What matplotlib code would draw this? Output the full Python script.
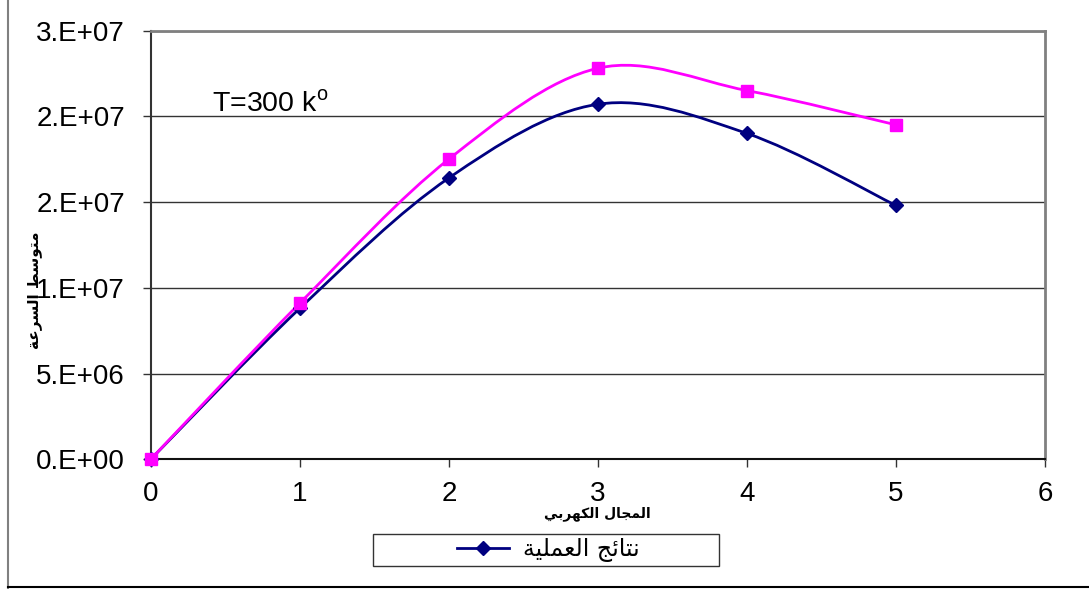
import matplotlib
matplotlib.use('Agg')
import numpy as np
import matplotlib.pyplot as plt
from matplotlib.path import Path
from matplotlib.patches import PathPatch, Rectangle
from matplotlib.lines import Line2D

plt.rcParams['font.family'] = ['Liberation Sans', 'DejaVu Sans']
plt.rcParams['mathtext.fontset'] = 'custom'
plt.rcParams['mathtext.rm'] = 'Liberation Sans'

# electric field vs. mean drift speed at T = 300 K
field = [0, 1, 2, 3, 4, 5]
speed_measured = [0, 8.8e6, 1.64e7, 2.07e7, 1.90e7, 1.48e7]
speed_second = [0, 9.1e6, 1.75e7, 2.28e7, 2.15e7, 1.95e7]

x_ticks = [0, 1, 2, 3, 4, 5, 6]
y_ticks = [0, 5e6, 1e7, 1.5e7, 2e7, 2.5e7]
y_tick_labels = ['0.E+00', '5.E+06', '1.E+07', '2.E+07', '2.E+07', '3.E+07']

x_title = 'المجال الكهربي'
y_title = 'متوسط السرعة'
legend_label = 'نتائج العملية'

# matplotlib does no Arabic shaping, so pick presentation forms by hand
# (isolated, final, initial, medial); right-joining letters have only two
AR_FORMS = {
    'ا': (0xFE8D, 0xFE8E),
    'ب': (0xFE8F, 0xFE90, 0xFE91, 0xFE92),
    'ة': (0xFE93, 0xFE94),
    'ت': (0xFE95, 0xFE96, 0xFE97, 0xFE98),
    'ج': (0xFE9D, 0xFE9E, 0xFE9F, 0xFEA0),
    'ر': (0xFEAD, 0xFEAE),
    'س': (0xFEB1, 0xFEB2, 0xFEB3, 0xFEB4),
    'ط': (0xFEC1, 0xFEC2, 0xFEC3, 0xFEC4),
    'ع': (0xFEC9, 0xFECA, 0xFECB, 0xFECC),
    'ك': (0xFED9, 0xFEDA, 0xFEDB, 0xFEDC),
    'ل': (0xFEDD, 0xFEDE, 0xFEDF, 0xFEE0),
    'م': (0xFEE1, 0xFEE2, 0xFEE3, 0xFEE4),
    'ن': (0xFEE5, 0xFEE6, 0xFEE7, 0xFEE8),
    'ه': (0xFEE9, 0xFEEA, 0xFEEB, 0xFEEC),
    'و': (0xFEED, 0xFEEE),
    'ي': (0xFEF1, 0xFEF2, 0xFEF3, 0xFEF4),
    'ئ': (0xFE89, 0xFE8A, 0xFE8B, 0xFE8C),
}


def shape_ar(text):
    out = []
    for i, ch in enumerate(text):
        forms = AR_FORMS.get(ch)
        if forms is None:
            out.append(ch)
            continue
        prev = text[i - 1] if i > 0 else ''
        nxt = text[i + 1] if i + 1 < len(text) else ''
        join_prev = prev in AR_FORMS and len(AR_FORMS[prev]) == 4
        join_next = len(forms) == 4 and nxt in AR_FORMS
        if join_prev and join_next:
            code = forms[3]
        elif join_prev:
            code = forms[1]
        elif join_next:
            code = forms[2]
        else:
            code = forms[0]
        out.append(chr(code))
    return ''.join(reversed(out))


def smooth_path(xs, ys):
    # Catmull-Rom through the points, written as cubic Bezier segments
    pts = np.column_stack([xs, ys]).astype(float)
    n = len(pts)
    verts = [pts[0]]
    codes = [Path.MOVETO]
    for i in range(n - 1):
        p0 = pts[max(i - 1, 0)]
        p1 = pts[i]
        p2 = pts[i + 1]
        p3 = pts[min(i + 2, n - 1)]
        verts += [p1 + (p2 - p0) / 6, p2 - (p3 - p1) / 6, p2]
        codes += [Path.CURVE4] * 3
    return Path(verts, codes)


fig = plt.figure(figsize=(10.89, 5.89), dpi=100)
ax = fig.add_axes([0.1384, 0.2202, 0.8212, 0.728])

ax.yaxis.grid(True, color='#333333', lw=1, zorder=0)

for ys, col, mk, ms in [(speed_measured, '#000080', 'D', 7),
                        (speed_second, '#FF00FF', 's', 8.5)]:
    ax.add_patch(PathPatch(smooth_path(field, ys), fill=False, edgecolor=col,
                           lw=2, zorder=3))
    ax.plot(field, ys, linestyle='none', marker=mk, ms=ms, color=col,
            zorder=4, clip_on=False)

ax.set_xlim(0, 6)
ax.set_ylim(0, 2.5e7)
ax.set_xticks(x_ticks)
ax.set_yticks(y_ticks)
ax.set_yticklabels(y_tick_labels)
ax.tick_params(direction='out', length=5.5, width=1, color='#333333',
               labelsize=20)
ax.tick_params(axis='y', pad=13)
ax.tick_params(axis='x', pad=10)

for side in ['top', 'right']:
    ax.spines[side].set_color('#808080')
    ax.spines[side].set_linewidth(2)
ax.spines['left'].set_color('#333333')
ax.spines['left'].set_linewidth(1.5)
ax.spines['bottom'].set_color('#111111')
ax.spines['bottom'].set_linewidth(1.5)

ax.text(0.0688, 0.81, r'T=300 k$^{\mathrm{o}}$', transform=ax.transAxes,
        fontsize=20.5, ha='left', va='baseline')

fig.text(597 / 1089, 1 - 514 / 589, shape_ar(x_title), family='DejaVu Sans',
         fontweight='bold', fontsize=10, ha='center', va='center')
fig.text(35 / 1089, 1 - 290 / 589, shape_ar(y_title), family='DejaVu Sans',
         fontweight='bold', fontsize=11, rotation=90, ha='center', va='center')

# legend box below the axis title
fig.patches.append(Rectangle((373 / 1089, 1 - 566 / 589), 346 / 1089, 32 / 589,
                             transform=fig.transFigure, fill=False,
                             edgecolor='#333333', lw=1))
handle = Line2D([], [], color='#000080', lw=2, marker='D', ms=7)
fig.legend([handle], [shape_ar(legend_label)], loc='center',
           bbox_to_anchor=(548 / 1089, 1 - 550 / 589), frameon=False,
           prop={'family': 'DejaVu Sans', 'size': 17},
           handlelength=2.2, handletextpad=0.6)

# outer chart frame edges
fig.add_artist(Line2D([7.5 / 1089, 7.5 / 1089], [0, 1], color='#808080',
                      lw=1.5, transform=fig.transFigure))
fig.add_artist(Line2D([7.5 / 1089, 1], [2 / 589, 2 / 589], color='black',
                      lw=1.5, transform=fig.transFigure))

fig.savefig('out.png', dpi=100, facecolor='white')
